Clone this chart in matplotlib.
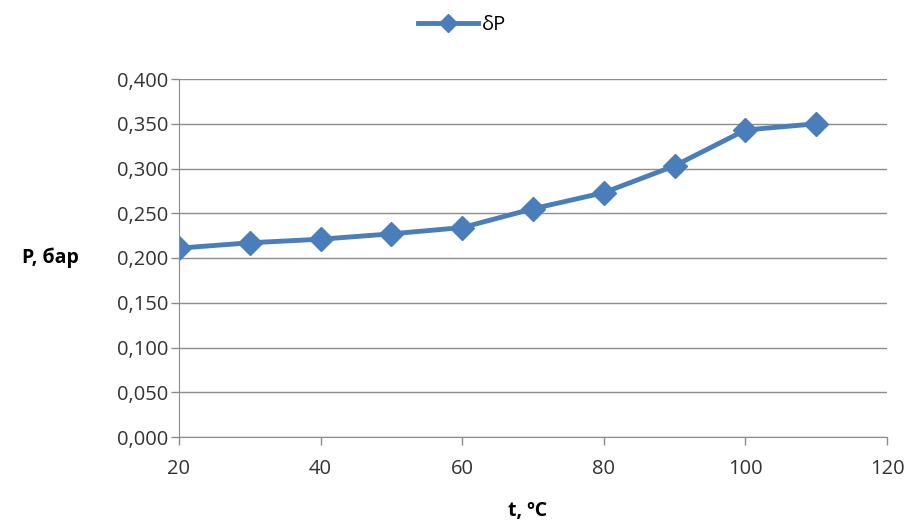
import matplotlib.pyplot as plt
from matplotlib.ticker import FuncFormatter

plt.rcParams['font.family'] = ['Open Sans', 'DejaVu Sans']

# temperature, C
t = [20, 30, 40, 50, 60, 70, 80, 90, 100, 110]
# pressure drop, bar
dP = [0.211, 0.217, 0.221, 0.227, 0.234, 0.255, 0.273, 0.303, 0.343, 0.350]

fig = plt.figure(figsize=(9.07, 5.24), dpi=100)
ax = fig.add_axes([179 / 907, 1 - 437 / 524, (887 - 179) / 907, (437 - 79) / 524])

ax.plot(t, dP, color='#4A7EBB', lw=3.5, marker='D', ms=12, label='δP')

ax.set_xlim(20, 120)
ax.set_ylim(0, 0.4)
ax.set_xticks(range(20, 121, 20))
ax.set_yticks([i * 0.05 for i in range(9)])
ax.yaxis.set_major_formatter(FuncFormatter(lambda v, p: f'{v:.3f}'.replace('.', ',')))

ax.grid(axis='y', color='#8C8C8C', lw=1)
ax.set_axisbelow(True)
for s in ['top', 'right']:
    ax.spines[s].set_visible(False)
for s in ['left', 'bottom']:
    ax.spines[s].set_color('#8C8C8C')
ax.tick_params(axis='both', colors='#8C8C8C', labelcolor='#333333', labelsize=14.5, length=6, width=1)
ax.tick_params(axis='x', pad=10)
ax.tick_params(axis='y', pad=2)

fig.text(50 / 907, 1 - 258 / 524, 'P, бар', fontsize=14, fontweight='bold', ha='center', va='center')
fig.text(528 / 907, 1 - 511 / 524, 't, ºC', fontsize=14, fontweight='bold', ha='center', va='center')

ax.legend(loc='center', bbox_to_anchor=(462 / 907, 1 - 25 / 524), bbox_transform=fig.transFigure,
          frameon=False, fontsize=14.5, handlelength=3, handletextpad=0.2, markerscale=0.8)

fig.savefig('out.png', dpi=100)
